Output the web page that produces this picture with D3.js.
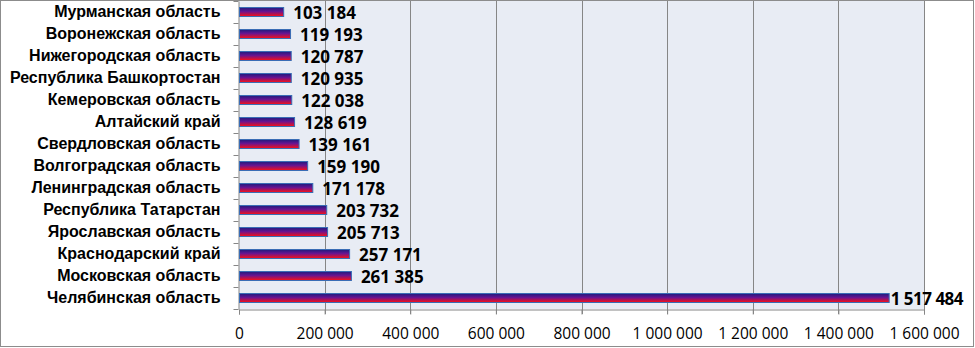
<!DOCTYPE html>
<html><head><meta charset="utf-8">
<script src="https://cdn.jsdelivr.net/npm/d3@7"></script>
<style>body{margin:0;background:#fff}svg{display:block}</style>
</head><body>
<script>
const categories = ["Мурманская область","Воронежская область","Нижегородская область","Республика Башкортостан","Кемеровская область","Алтайский край","Свердловская область","Волгоградская область","Ленинградская область","Республика Татарстан","Ярославская область","Краснодарский край","Московская область","Челябинская область"];
const values = [103184,119193,120787,120935,122038,128619,139161,159190,171178,203732,205713,257171,261385,1517484];
const tickValues = [0,200000,400000,600000,800000,1000000,1200000,1400000,1600000];

(function(){
const W = 975, H = 348;
const mLeft = 239, mRight = 924, mTop = 1, mBottom = 309;
const fmt = v => d3.format(",")(v).replace(/,/g, "\u00a0");

const svg = d3.select("body").append("svg").attr("width", W).attr("height", H);
const defs = svg.append("defs");
const grad = defs.append("linearGradient").attr("id","bg").attr("x1",0).attr("y1",0).attr("x2",0).attr("y2",1);
grad.append("stop").attr("offset","0%").attr("stop-color","#1c1c7e");
grad.append("stop").attr("offset","45%").attr("stop-color","#6a1490");
grad.append("stop").attr("offset","100%").attr("stop-color","#ff1010");

svg.append("rect").attr("x",0.5).attr("y",0.5).attr("width",W-2).attr("height",H-2).attr("fill","#fff").attr("stroke","#8c8c8c");

const x = d3.scaleLinear().domain([0,1600000]).range([mLeft,mRight]);
const y = d3.scaleBand().domain(categories).range([mTop,mBottom]);

svg.append("rect").attr("x",mLeft).attr("y",mTop).attr("width",mRight-mLeft).attr("height",mBottom-mTop).attr("fill","#e8ecf4");

svg.append("g").selectAll("line").data(tickValues.slice(1)).join("line")
  .attr("x1",d=>Math.round(x(d))+0.5).attr("x2",d=>Math.round(x(d))+0.5)
  .attr("y1",mTop).attr("y2",mBottom+5).attr("stroke","#868686").attr("stroke-width",1);

const xa = svg.append("g").attr("transform",`translate(0,${mBottom+0.5})`)
  .call(d3.axisBottom(x).tickValues(tickValues).tickFormat(fmt).tickSize(5).tickPadding(13));
xa.select(".domain").attr("stroke","#868686");
xa.selectAll(".tick line").attr("stroke","#868686");
xa.selectAll("text").attr("font-family","'Open Sans', sans-serif").attr("font-size",15.5).attr("fill","#000");

const ya = svg.append("g").attr("transform",`translate(${mLeft-0.5},0)`)
  .call(d3.axisLeft(y).tickSize(0).tickPadding(18));
ya.select(".domain").attr("stroke","#868686");
ya.selectAll("text").attr("font-family","'Liberation Sans', Arial, sans-serif").attr("font-weight","bold").attr("font-size",16).attr("fill","#000");
ya.append("g").selectAll("line").data(d3.range(categories.length+1)).join("line")
  .attr("x1",-5).attr("x2",0)
  .attr("y1",i=>Math.round(mTop + i*y.step())+0.5).attr("y2",i=>Math.round(mTop + i*y.step())+0.5)
  .attr("stroke","#868686");

const bh = 9;
svg.append("g").selectAll("rect").data(categories).join("rect")
  .attr("x",mLeft+0.5).attr("y",(d)=>y(d)+y.bandwidth()/2-bh/2)
  .attr("width",(d,i)=>x(values[i])-mLeft).attr("height",bh)
  .attr("fill","url(#bg)").attr("stroke","#3a6db5").attr("stroke-width",1);

const lab = svg.append("g").selectAll("text").data(categories).join("text")
  .attr("y",d=>y(d)+y.bandwidth()/2+7)
  .attr("font-family","'Open Sans', sans-serif").attr("font-weight","bold").attr("font-size",17)
  .text((d,i)=>fmt(values[i]))
  .attr("x",(d,i)=>x(values[i])+10);
lab.each(function(d,i){
  const w = this.getComputedTextLength();
  const xx = x(values[i])+10;
  if (xx + w > W-4) d3.select(this).attr("x", x(values[i])+2).attr("letter-spacing","-0.5");
});
})();
</script>
</body></html>
